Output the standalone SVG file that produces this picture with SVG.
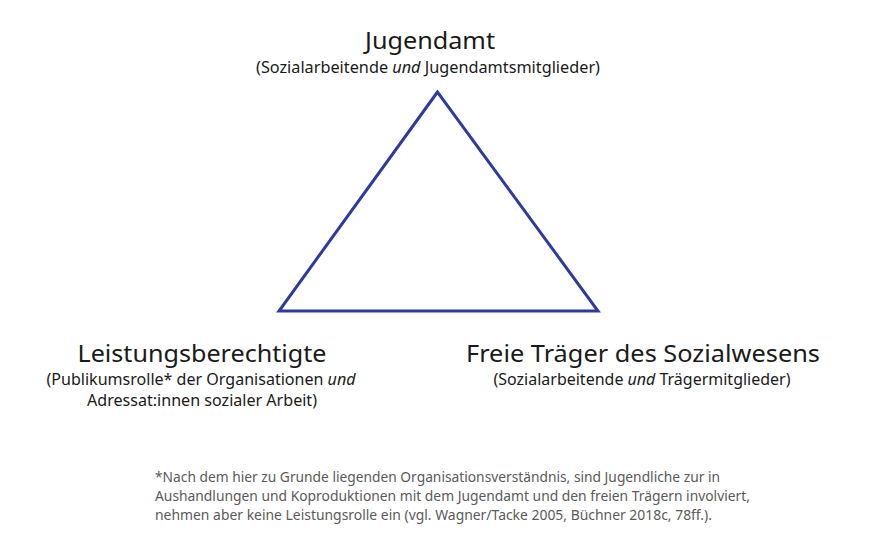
<svg xmlns="http://www.w3.org/2000/svg" width="874" height="557" viewBox="0 0 874 557">
<style>
.title{font-family:"Noto Sans","Liberation Sans",sans-serif;font-size:24px;fill:#1a1a1a;text-anchor:middle}
.sub{font-family:"Noto Sans","Liberation Sans",sans-serif;font-size:15.5px;fill:#1a1a1a;text-anchor:middle}
.it{font-style:italic}
.note{font-family:"Noto Sans","Liberation Sans",sans-serif;font-size:14px;fill:#5a5a5a}
</style>
<rect width="874" height="557" fill="#ffffff"/>
<g id="connectors">
<polygon points="437.5,92 279,311 598,311" fill="none" stroke="#2e3a9c" stroke-width="3" stroke-linejoin="miter"/>
</g>
<g id="node-jugendamt">
<text class="title" x="430" y="49" textLength="130" lengthAdjust="spacingAndGlyphs">Jugendamt</text>
<text class="sub" x="428" y="73" textLength="344" lengthAdjust="spacingAndGlyphs">(Sozialarbeitende <tspan class="it">und</tspan> Jugendamtsmitglieder)</text>
</g>
<g id="node-leistungsberechtigte">
<text class="title" x="202" y="362" textLength="249" lengthAdjust="spacingAndGlyphs">Leistungsberechtigte</text>
<text class="sub" x="201" y="385" textLength="309" lengthAdjust="spacingAndGlyphs">(Publikumsrolle* der Organisationen <tspan class="it">und</tspan></text>
<text class="sub" x="202" y="406" textLength="230" lengthAdjust="spacingAndGlyphs">Adressat:innen sozialer Arbeit)</text>
</g>
<g id="node-freie-traeger">
<text class="title" x="643" y="362" textLength="354" lengthAdjust="spacingAndGlyphs">Freie Träger des Sozialwesens</text>
<text class="sub" x="642" y="385" textLength="297" lengthAdjust="spacingAndGlyphs">(Sozialarbeitende <tspan class="it">und</tspan> Trägermitglieder)</text>
</g>
<g id="footnote">
<text class="note" x="155" y="482" textLength="565" lengthAdjust="spacingAndGlyphs">*Nach dem hier zu Grunde liegenden Organisationsverständnis, sind Jugendliche zur in</text>
<text class="note" x="155" y="501" textLength="595" lengthAdjust="spacingAndGlyphs">Aushandlungen und Koproduktionen mit dem Jugendamt und den freien Trägern involviert,</text>
<text class="note" x="155" y="520" textLength="557" lengthAdjust="spacingAndGlyphs">nehmen aber keine Leistungsrolle ein (vgl. Wagner/Tacke 2005, Büchner 2018c, 78ff.).</text>
</g>
</svg>
